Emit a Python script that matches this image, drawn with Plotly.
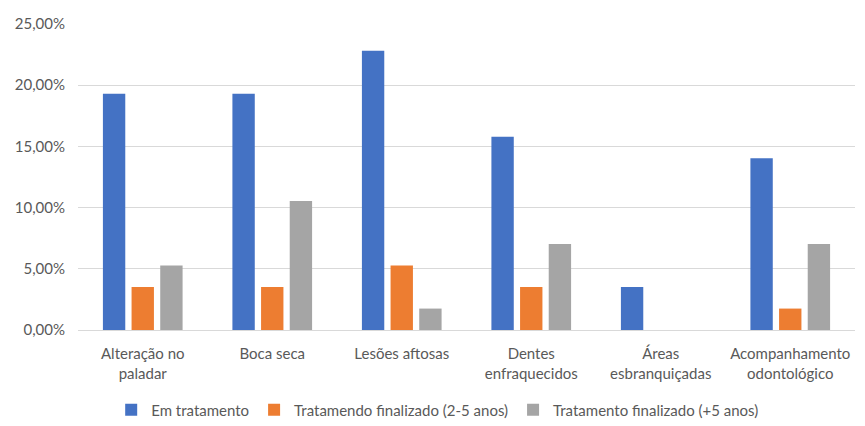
import plotly.graph_objects as go

categories = [
    "Alteração no<br>paladar",
    "Boca seca",
    "Lesões aftosas",
    "Dentes<br>enfraquecidos",
    "Áreas<br>esbranquiçadas",
    "Acompanhamento<br>odontológico",
]
em_tratamento = [19.30, 19.30, 22.81, 15.79, 3.51, 14.04]
finalizado_2_5 = [3.51, 3.51, 5.26, 3.51, 0.0, 1.75]
finalizado_5_mais = [5.26, 10.53, 1.75, 7.02, 0.0, 7.02]

series_names = [
    "Em tratamento",
    "Tratamendo finalizado (2-5 anos)",
    "Tratamento finalizado (+5 anos)",
]
colors = ["#4472C4", "#ED7D31", "#A5A5A5"]
y_ticks = [0, 5, 10, 15, 20, 25]
y_tick_labels = ["0,00%", "5,00%", "10,00%", "15,00%", "20,00%", "25,00%"]

FONT = "Lato, 'Open Sans', sans-serif"
TXT = "#595959"

fig = go.Figure()
for name, vals, col in zip(series_names, [em_tratamento, finalizado_2_5, finalizado_5_mais], colors):
    fig.add_trace(go.Bar(x=categories, y=vals, name=name, marker_color=col, marker_line_width=0))

fig.update_layout(
    width=865,
    height=426,
    margin=dict(l=78, r=10, t=24, b=96, autoexpand=False),
    paper_bgcolor="white",
    plot_bgcolor="white",
    barmode="group",
    bargap=0.336,
    bargroupgap=0.22,
    font=dict(family=FONT, size=15, color=TXT),
    legend=dict(
        orientation="h",
        xref="container",
        yref="container",
        x=0.506,
        xanchor="center",
        y=(426 - 410) / 426,
        yanchor="middle",
        font=dict(family=FONT, size=15, color=TXT),
        itemwidth=30,
        traceorder="normal",
    ),
    showlegend=True,
)
fig.update_xaxes(
    automargin=False,
    showgrid=False,
    showline=True,
    linecolor="#d9d9d9",
    linewidth=1,
    ticks="",
    ticklabelstandoff=10,
    tickfont=dict(family=FONT, size=15, color=TXT),
)
fig.update_yaxes(
    automargin=False,
    range=[0, 25],
    tickvals=y_ticks,
    ticktext=y_tick_labels,
    showgrid=True,
    gridcolor="#d9d9d9",
    gridwidth=1,
    zeroline=False,
    showline=False,
    ticks="",
    ticklabelstandoff=12,
    tickfont=dict(family=FONT, size=15, color=TXT),
)

fig.write_html("out.html")
